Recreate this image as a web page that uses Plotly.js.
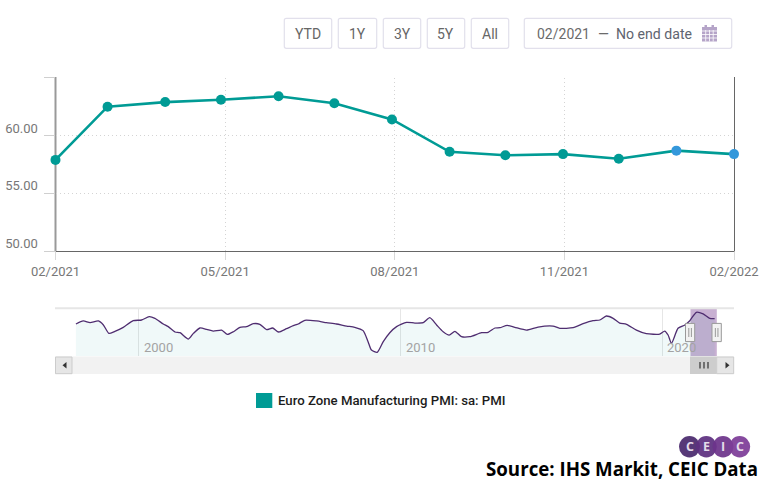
<!DOCTYPE html>
<html><head><meta charset="utf-8">
<script src="https://cdn.plot.ly/plotly-3.0.1.min.js"></script>
<style>html,body{margin:0;padding:0;background:#fff;overflow:hidden}</style>
</head><body><div id="chart" style="width:761px;height:481px"></div>
<script>
const months = ["2021-02-01","2021-03-01","2021-04-01","2021-05-01","2021-06-01","2021-07-01","2021-08-01","2021-09-01","2021-10-01","2021-11-01","2021-12-01","2022-01-01","2022-02-01"];
const pmi = [57.9,62.5,62.9,63.1,63.4,62.8,61.4,58.6,58.3,58.4,58.0,58.7,58.4];
const pointColors = ["#009b95","#009b95","#009b95","#009b95","#009b95","#009b95","#009b95","#009b95","#009b95","#009b95","#009b95","#3498db","#3498db"];
const xTickDates = ["2021-02-01","2021-05-03 06:00","2021-08-02 12:00","2021-11-01 18:00","2022-02-01"];
const xTickLabels = ["02/2021","05/2021","08/2021","11/2021","02/2022"];
const yTickVals = [50,55,60,65];
const yTickLabels = ["50.00","55.00","60.00",""];
const navYears = [1997.59,1997.87,1998.13,1998.45,1998.64,1998.85,1999.08,1999.40,1999.78,2000.10,2000.39,2000.61,2000.93,2001.12,2001.38,2001.57,2001.89,2002.08,2002.33,2002.59,2002.84,2003.16,2003.38,2003.61,2003.86,2004.11,2004.37,2004.62,2004.88,2005.11,2005.34,2005.64,2005.90,2006.09,2006.34,2006.79,2007.17,2007.55,2007.94,2008.25,2008.57,2008.76,2008.89,2009.11,2009.34,2009.59,2009.85,2010.23,2010.55,2010.87,2011.12,2011.38,2011.63,2011.86,2012.08,2012.33,2012.65,2013.10,2013.35,2013.61,2013.80,2014.08,2014.37,2014.82,2015.26,2015.83,2016.09,2016.60,2016.98,2017.36,2017.62,2017.87,2018.13,2018.38,2018.64,2019.02,2019.40,2019.91,2020.10,2020.23,2020.36,2020.61,2020.87,2021.06,2021.31,2021.57,2021.82,2022.01];
const navValues = [54.3,56.5,55.3,56.5,53.6,47.5,49.0,51.9,56.7,57.2,59.6,58.4,54.3,52.4,48.5,48.0,43.4,47.5,51.4,50.4,49.2,49.9,46.8,48.7,51.9,52.4,54.5,54.1,50.2,51.4,48.5,50.9,53.1,54.3,57.0,56.5,55.3,54.3,52.8,51.9,49.5,41.5,35.4,33.8,41.5,48.0,52.4,55.5,55.0,55.3,58.9,53.6,48.7,46.3,49.0,45.1,45.1,48.0,48.3,51.4,51.6,53.3,51.9,49.9,52.1,52.8,51.2,51.6,54.5,56.7,57.2,60.1,58.4,55.0,54.1,49.9,47.3,47.0,49.2,46.3,40.3,51.2,53.6,56.7,62.8,61.6,58.4,58.2];
const navTicks = [2000,2010,2020];
const buttons = ["YTD","1Y","3Y","5Y","All"];
const legendLabel = "Euro Zone Manufacturing PMI: sa: PMI";
const sourceLabel = "Source: IHS Markit, CEIC Data";

const W=761,H=481, fx=x=>x/W, fy=y=>1-y/H;
const shapes=[], annotations=[];
function rect(x0,y0,x1,y1,fill,line,lw,layer){shapes.push({type:'rect',xref:'paper',yref:'paper',x0:fx(x0),x1:fx(x1),y0:fy(y0),y1:fy(y1),fillcolor:fill,line:{color:line||fill,width:line?(lw||1):0},layer:layer||'above'});}
function rrect(x0,y0,x1,y1,r,line){
  const X=x=>fx(x),Y=y=>fy(y);
  const p=`M${X(x0+r)},${Y(y0)} L${X(x1-r)},${Y(y0)} Q${X(x1)},${Y(y0)} ${X(x1)},${Y(y0+r)} L${X(x1)},${Y(y1-r)} Q${X(x1)},${Y(y1)} ${X(x1-r)},${Y(y1)} L${X(x0+r)},${Y(y1)} Q${X(x0)},${Y(y1)} ${X(x0)},${Y(y1-r)} L${X(x0)},${Y(y0+r)} Q${X(x0)},${Y(y0)} ${X(x0+r)},${Y(y0)} Z`;
  shapes.push({type:'path',xref:'paper',yref:'paper',path:p,fillcolor:'#fff',line:{color:line,width:1.2},layer:'above'});
}
function poly(pts,fill){
  shapes.push({type:'path',xref:'paper',yref:'paper',path:'M'+pts.map(p=>fx(p[0])+','+fy(p[1])).join(' L')+' Z',fillcolor:fill,line:{width:0},layer:'above'});
}
function vline(x,y0,y1,c,w,layer){shapes.push({type:'line',xref:'paper',yref:'paper',x0:fx(x),x1:fx(x),y0:fy(y0),y1:fy(y1),line:{color:c,width:w},layer:layer||'above'});}
function hline(x0,x1,y,c,w){shapes.push({type:'line',xref:'paper',yref:'paper',x0:fx(x0),x1:fx(x1),y0:fy(y),y1:fy(y),line:{color:c,width:w},layer:'above'});}
function label(text,x,y,size,color,anchor,family,weight){annotations.push({text:text,xref:'paper',yref:'paper',x:fx(x),y:fy(y),xanchor:anchor||'center',yanchor:'middle',showarrow:false,borderpad:0,align:anchor||'center',font:{family:family||'Roboto',size:size,color:color,weight:weight||400}});}

// range buttons
const btnBoxes=[[284.3,331.7],[338.3,376.7],[383.3,420.7],[427.3,464.7],[471.3,508.7]];
buttons.forEach((b,i)=>{rrect(btnBoxes[i][0],18.3,btnBoxes[i][1],48.3,2,'#e2e0ec');label(b,(btnBoxes[i][0]+btnBoxes[i][1])/2,33.6,14,'#666');});
rrect(524.3,18.3,731.7,48.3,2,'#e2e0ec');
label("02/2021",535.5,33.6,14,'#6b6b6b','left');
label("—",603,33.6,14,'#6b6b6b');
label("No end date",614.5,33.6,14.1,'#5f6470','left');
// calendar icon
rect(702,27,717,41.5,'#b5a4c8');
rect(704.5,25,707,29,'#b5a4c8');rect(711.5,25,714,29,'#b5a4c8');
[31,34.5,38].forEach(y=>hline(702,717,y,'#fff',0.8));
[705.7,709.5,713.2].forEach(x=>vline(x,30,41.5,'#fff',0.8));

// main frame
vline(55.5,77,251.5,'#999',2,'below');
vline(734.5,77,251.5,'#666',1,'below');

// navigator chrome
hline(55,734,308.3,'#e6e6e6',2);
rect(690.5,308,716.8,356,'#c8b0d2',null,0,'below');
rect(55,356.5,734,374,'#f2f2f2');
rect(55.5,357,72,373.7,'#e6e6e6','#ccc',1);
poly([[66.5,362],[66.5,368.5],[62.5,365.2]],'#333');
rect(690,356.5,716.7,374,'#cdcdcd');
[700,704,708].forEach(x=>vline(x,362,368.5,'#333',1.2));
rect(716.7,357,733.7,373.7,'#e6e6e6','#ccc',1);
poly([[725.5,362],[725.5,368.5],[729.5,365.2]],'#333');
[[685.5,694.7],[712,721.3]].forEach(h=>{
  rect(h[0],323.4,h[1],341.6,'#f2f2f2','#999',1);
  vline((h[0]+h[1])/2-1.3,328,337,'#999',1);
  vline((h[0]+h[1])/2+1.3,328,337,'#999',1);
});
navTicks.forEach(t=>annotations.push({text:String(t),xref:'x2',yref:'paper',x:t,y:fy(347.5),xanchor:'left',yanchor:'middle',xshift:3,showarrow:false,font:{family:'Roboto',size:13,color:'#a3a3a3'}}));

// legend
rect(256,393,272.3,408,'#009b95');
label(legendLabel,276.5,400.6,13.2,'#1c1c1c','left','Roboto',500);

// logo
const logoC=["#4a2a6e","#5e3080","#6d348b","#7d3c98"],logoX=[689.5,706.3,723,739.7],logoT=["C","E","I","C"];
logoX.forEach((x,i)=>{
  shapes.push({type:'circle',xref:'paper',yref:'paper',x0:fx(x-10.5),x1:fx(x+10.5),y0:fy(436),y1:fy(457.5),fillcolor:logoC[i],opacity:0.93,line:{width:0},layer:'above'});
  label(logoT[i],x,446.7,12.5,'#e4dcea','center','Open Sans',700);
});
label(sourceLabel,758.5,468,18.7,'#000','right','Open Sans',700);

const traces=[
 {type:'scatter',mode:'lines+markers',x:months,y:pmi,xaxis:'x',yaxis:'y',cliponaxis:false,
  line:{color:'#009b95',width:2.6},marker:{size:10,color:pointColors,line:{width:0}},hoverinfo:'skip'},
 {type:'scatter',mode:'lines',x:navYears,y:navValues,xaxis:'x2',yaxis:'y2',
  line:{color:'#4f2d70',width:1.3,shape:'spline',smoothing:0.6},fill:'tozeroy',fillcolor:'rgba(0,155,149,0.06)',hoverinfo:'skip'}
];
const dots='1px,3px';
const layout={
 width:W,height:H,margin:{l:0,r:0,t:0,b:0},paper_bgcolor:'#fff',plot_bgcolor:'rgba(0,0,0,0)',showlegend:false,
 font:{family:'Roboto',color:'#777',size:13},
 xaxis:{type:'date',domain:[fx(55.5),fx(734)],anchor:'y',range:["2021-02-01","2022-02-01"],tickmode:'array',tickvals:xTickDates,ticktext:xTickLabels,
   ticks:'outside',ticklen:8,tickcolor:'#d8d8d8',tickwidth:1,showline:true,linecolor:'#666',linewidth:1,
   showgrid:true,gridcolor:'#d4d4d4',griddash:dots,gridwidth:1,zeroline:false,tickfont:{family:'Roboto',size:13,color:'#777'},automargin:false},
 yaxis:{domain:[fy(251.2),fy(77.8)],anchor:'x',range:[50,65],tickmode:'array',tickvals:yTickVals,ticktext:yTickLabels,
   ticks:'outside',ticklen:11,tickcolor:'#cfcfcf',tickwidth:1,showline:false,ticklabelposition:'outside top',ticklabelstandoff:14,ticklabelshift:2,
   showgrid:true,gridcolor:'#d4d4d4',griddash:dots,gridwidth:1,zeroline:false,tickfont:{family:'Roboto',size:13,color:'#777'},automargin:false},
 xaxis2:{domain:[fx(55),fx(734)],anchor:'y2',range:[1996.79,2022.75],tickmode:'array',tickvals:navTicks,showticklabels:false,ticks:'',
   showgrid:true,gridcolor:'#e6e6e6',gridwidth:1,zeroline:false,showline:false},
 yaxis2:{domain:[fy(356),fy(308)],anchor:'x2',range:[31.1,65.9],visible:false,showgrid:false,zeroline:false},
 shapes:shapes,annotations:annotations
};
Plotly.newPlot('chart',traces,layout,{displayModeBar:false,staticPlot:true});
</script></body></html>
